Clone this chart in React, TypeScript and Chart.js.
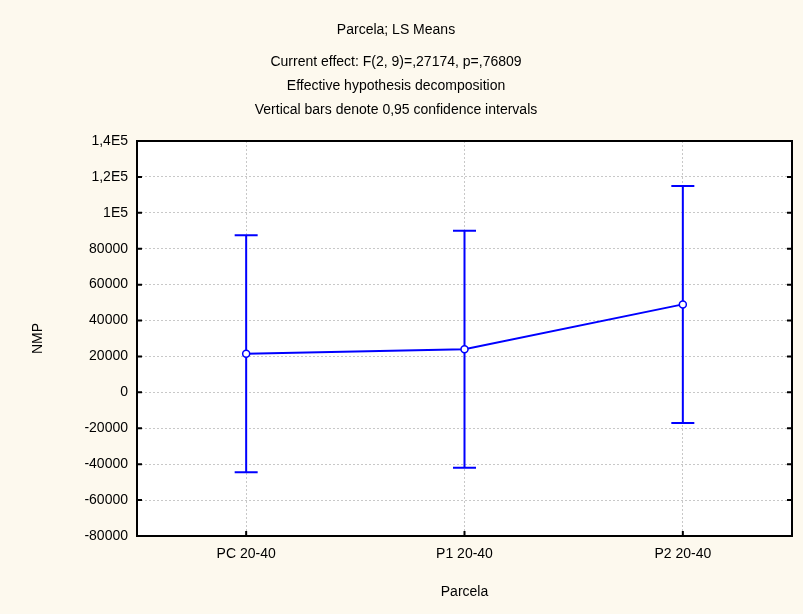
import React, { useEffect, useRef } from "react";
import { Chart, registerables } from "chart.js";

Chart.register(...registerables);

const categories = ["PC 20-40", "P1 20-40", "P2 20-40"];
const means = [21500, 24000, 49000];
const upperCI = [87500, 90000, 115000];
const lowerCI = [-44500, -42000, -17000];
const yMin = -80000;
const yMax = 140000;
const yStep = 20000;
const yTickText: Record<string, string> = { "140000": "1,4E5", "120000": "1,2E5", "100000": "1E5" };

const titleText = "Parcela; LS Means";
const subtitleLines = [
  "Current effect: F(2, 9)=,27174, p=,76809",
  "Effective hypothesis decomposition",
  "Vertical bars denote 0,95 confidence intervals",
];
const xTitle = "Parcela";
const yTitle = "NMP";

const BG = "#FDF9EE";
const BLUE = "#0000FF";
const FONT = "'Liberation Sans', Arial, sans-serif";

const backgroundPlugin = {
  id: "bgPlugin",
  beforeDraw(chart: any) {
    const { ctx, chartArea } = chart;
    ctx.save();
    ctx.fillStyle = BG;
    ctx.fillRect(0, 0, chart.width, chart.height);
    ctx.fillStyle = "#FFFFFF";
    ctx.fillRect(chartArea.left, chartArea.top, chartArea.right - chartArea.left, chartArea.bottom - chartArea.top);
    ctx.restore();
  },
};

const errorBarPlugin = {
  id: "errorBars",
  beforeDatasetsDraw(chart: any) {
    const { ctx } = chart;
    const xs = chart.scales.x;
    const ys = chart.scales.y;
    ctx.save();
    ctx.strokeStyle = BLUE;
    ctx.lineWidth = 2;
    const cap = 11.5;
    for (let i = 0; i < categories.length; i++) {
      const x = xs.getPixelForValue(i);
      const yu = ys.getPixelForValue(upperCI[i]);
      const yl = ys.getPixelForValue(lowerCI[i]);
      ctx.beginPath();
      ctx.moveTo(x, yu);
      ctx.lineTo(x, yl);
      ctx.moveTo(x - cap, yu);
      ctx.lineTo(x + cap, yu);
      ctx.moveTo(x - cap, yl);
      ctx.lineTo(x + cap, yl);
      ctx.stroke();
    }
    ctx.restore();
  },
};

const framePlugin = {
  id: "framePlugin",
  afterDraw(chart: any) {
    const { ctx, chartArea } = chart;
    const { left, right, top, bottom } = chartArea;
    const ys = chart.scales.y;
    const xs = chart.scales.x;
    ctx.save();
    ctx.strokeStyle = "#000000";
    ctx.lineWidth = 2;
    ctx.beginPath();
    ys.ticks.forEach((_t: any, i: number) => {
      const y = ys.getPixelForTick(i);
      ctx.moveTo(left, y);
      ctx.lineTo(left + 5, y);
      ctx.moveTo(right, y);
      ctx.lineTo(right - 5, y);
    });
    xs.ticks.forEach((_t: any, i: number) => {
      const x = xs.getPixelForValue(i);
      ctx.moveTo(x, bottom);
      ctx.lineTo(x, bottom - 5);
    });
    ctx.stroke();
    ctx.strokeRect(left, top, right - left, bottom - top);
    ctx.restore();
  },
};

export default function App() {
  const ref = useRef<HTMLCanvasElement | null>(null);

  useEffect(() => {
    document.body.style.margin = "0";
    Chart.defaults.font.family = FONT;
    Chart.defaults.color = "#000000";
    const chart = new Chart(ref.current as HTMLCanvasElement, {
      type: "line",
      data: {
        labels: categories,
        datasets: [
          {
            data: means,
            borderColor: BLUE,
            borderWidth: 2,
            backgroundColor: "#FFFFFF",
            pointBackgroundColor: "#FFFFFF",
            pointBorderColor: BLUE,
            pointBorderWidth: 1.5,
            pointRadius: 3.5,
            tension: 0,
            fill: false,
          },
        ],
      },
      options: {
        responsive: false,
        animation: false,
        layout: { padding: { left: 0, right: 11, top: 0, bottom: 0 } },
        plugins: {
          legend: { display: false },
          tooltip: { enabled: false },
          title: {
            display: true,
            text: titleText,
            color: "#000",
            font: { size: 14, weight: "normal", lineHeight: 1.2 },
            padding: { top: 21.6, bottom: 0 },
          },
          subtitle: {
            display: true,
            text: subtitleLines,
            color: "#000",
            font: { size: 14, weight: "normal", lineHeight: "24px" },
            padding: { top: 11.6, bottom: 19 },
          },
        },
        scales: {
          x: {
            type: "category",
            offset: true,
            grid: {
              display: true,
              offset: false,
              color: "#C8C8C8",
              lineWidth: 1,
              drawTicks: false,
            },
            border: { display: false, dash: [2, 2] },
            ticks: { padding: 10, color: "#000", font: { size: 14 } },
            title: {
              display: true,
              text: xTitle,
              color: "#000",
              font: { size: 14 },
              padding: { top: 0, bottom: 13.6 },
            },
            afterFit(scale: any) {
              scale.height = 78;
            },
          },
          y: {
            min: yMin,
            max: yMax,
            grid: { color: "#C8C8C8", lineWidth: 1, drawTicks: false },
            border: { display: false, dash: [2, 2] },
            ticks: {
              stepSize: yStep,
              padding: 9,
              color: "#000",
              font: { size: 14 },
              callback: (v: any) => yTickText[String(v)] ?? String(v),
            },
            title: {
              display: true,
              text: yTitle,
              color: "#000",
              font: { size: 14 },
              padding: { top: 29.6, bottom: 0 },
            },
            afterFit(scale: any) {
              scale.width = 137;
            },
          },
        },
      },
      plugins: [backgroundPlugin, errorBarPlugin, framePlugin],
    } as any);
    return () => chart.destroy();
  }, []);

  return (
    <div style={{ width: 803, height: 614 }}>
      <canvas ref={ref} width={803} height={614} />
    </div>
  );
}
